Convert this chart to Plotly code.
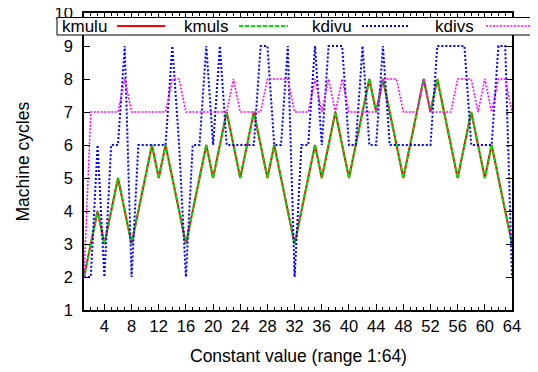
import plotly.graph_objects as go

x_values = list(range(1, 65))

kmulu = [2, 3, 4, 3, 4, 5, 4, 3, 4, 5, 6, 5, 6, 5, 4, 3,
         4, 5, 6, 5, 6, 7, 6, 5, 6, 7, 6, 5, 6, 5, 4, 3,
         4, 5, 6, 5, 6, 7, 6, 5, 6, 7, 8, 7, 8, 7, 6, 5,
         6, 7, 8, 7, 8, 7, 6, 5, 6, 7, 6, 5, 6, 5, 4, 3]
kmuls = [2, 3, 4, 3, 4, 5, 4, 3, 4, 5, 6, 5, 6, 5, 4, 3,
         4, 5, 6, 5, 6, 7, 6, 5, 6, 7, 6, 5, 6, 5, 4, 3,
         4, 5, 6, 5, 6, 7, 6, 5, 6, 7, 8, 7, 8, 7, 6, 5,
         6, 7, 8, 7, 8, 7, 6, 5, 6, 7, 6, 5, 6, 5, 4, 3]
kdivu = [2, 2, 6, 2, 6, 6, 9, 2, 6, 6, 6, 6, 6, 9, 6, 2,
         6, 6, 9, 6, 9, 6, 6, 6, 6, 6, 9, 9, 6, 6, 9, 2,
         6, 6, 9, 6, 9, 9, 9, 6, 6, 9, 6, 6, 9, 6, 6, 6,
         6, 6, 6, 6, 9, 9, 9, 9, 9, 6, 6, 6, 6, 9, 9, 2]
kdivs = [2, 7, 7, 7, 7, 7, 8, 7, 7, 7, 7, 7, 7, 8, 8, 7,
         7, 7, 7, 7, 7, 7, 8, 7, 7, 7, 7, 8, 8, 8, 8, 7,
         7, 7, 8, 7, 8, 7, 8, 7, 7, 7, 7, 7, 8, 8, 8, 7,
         7, 7, 8, 7, 7, 7, 7, 8, 8, 8, 7, 8, 7, 8, 8, 7]

series_names = ["kmulu", "kmuls", "kdivu", "kdivs"]
series_values = [kmulu, kmuls, kdivu, kdivs]
x_tick_values = list(range(4, 65, 4))
y_tick_values = list(range(1, 11))
x_title = "Constant value (range 1:64)"
y_title = "Machine cycles"

styles = [
    dict(color="#ff0000", width=2, dash="solid"),
    dict(color="#00e000", width=2, dash="4px,2px"),
    dict(color="#0000ff", width=2, dash="2px,2px"),
    dict(color="#ff00ff", width=1.5, dash="2px,1.5px"),
]

FONT = "Liberation Sans, Arial, Helvetica, sans-serif"
W, H = 538, 372
OFF = 8  # page body margin offsets the figure in the window
L, R, T, B = 84 - OFF, 512 - OFF, 13 - OFF, 310 - OFF
pw, ph = R - L, B - T

def px(xp):
    return (xp - OFF - L) / pw

def py(yp):
    return (B - (yp - OFF)) / ph

fig = go.Figure()
for name, vals, st in zip(series_names, series_values, styles):
    fig.add_trace(go.Scatter(x=x_values, y=vals, mode="lines", name=name,
                             line=st, showlegend=False))

shapes = []
annotations = []
# legend box (gnuplot style key spanning the width)
shapes.append(dict(type="rect", xref="paper", yref="paper",
                   x0=px(57), x1=px(560), y0=py(35), y1=py(17.5),
                   line=dict(color="black", width=1), fillcolor="white",
                   layer="above"))
text_x = [60, 182, 310, 433]
line_x = [(117, 165), (239, 288), (362, 410), (486, 560)]
for name, st, tx, (lx0, lx1) in zip(series_names, styles, text_x, line_x):
    annotations.append(dict(x=px(tx), y=py(26), xref="paper", yref="paper",
                            text=name, showarrow=False, xanchor="left",
                            yanchor="middle",
                            font=dict(family=FONT, size=17, color="black")))
    shapes.append(dict(type="line", xref="paper", yref="paper",
                       x0=px(lx0), x1=px(lx1), y0=py(26), y1=py(26),
                       line=st, layer="above"))

annotations.append(dict(x=0.5, y=py(356), xref="paper", yref="paper",
                        text=x_title, showarrow=False, xanchor="center",
                        yanchor="middle",
                        font=dict(family=FONT, size=17.5, color="black")))
annotations.append(dict(x=px(22), y=0.5, xref="paper", yref="paper",
                        text=y_title, showarrow=False, xanchor="center",
                        yanchor="middle", textangle=-90,
                        font=dict(family=FONT, size=17.5, color="black")))

fig.update_layout(
    width=W, height=H,
    margin=dict(l=L, r=W - R, t=T, b=H - B, pad=0, autoexpand=False),
    paper_bgcolor="white", plot_bgcolor="white",
    font=dict(family=FONT, size=16.5, color="black"),
    shapes=shapes, annotations=annotations,
    showlegend=False,
)
fig.update_xaxes(
    range=[1, 64], tickvals=x_tick_values, ticks="inside", ticklen=6,
    tickwidth=1, tickcolor="black", showgrid=False, zeroline=False,
    showline=True, linecolor="black", linewidth=1.5, mirror="ticks",
    ticklabelstandoff=0, automargin=False, ticklabeloverflow="allow",
    minor=dict(dtick=1, tick0=0, ticks="inside", ticklen=3, tickcolor="black",
               tickwidth=1, showgrid=False),
)
fig.update_yaxes(
    range=[1, 10], tickvals=y_tick_values, ticks="inside", ticklen=6,
    tickwidth=1, tickcolor="black", showgrid=False, zeroline=False,
    showline=True, linecolor="black", linewidth=1.5, mirror="ticks",
    ticklabelstandoff=6, automargin=False, ticklabeloverflow="allow",
)

fig.write_html("out.html")
